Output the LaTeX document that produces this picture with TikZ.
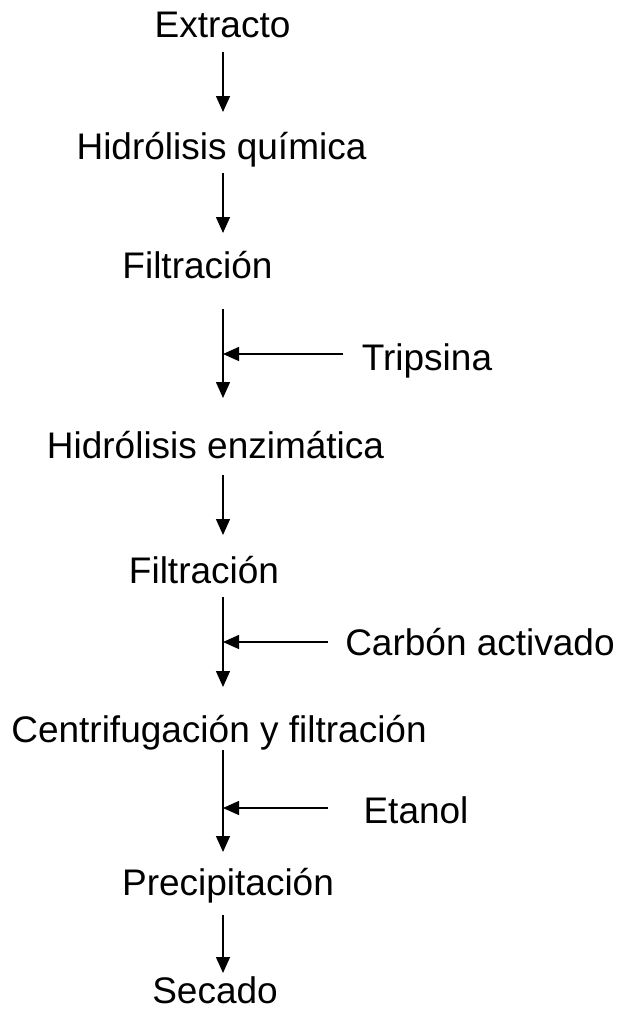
\documentclass[tikz,border=0pt]{standalone}
\usepackage{fontspec}
\setmainfont{Liberation Sans}
\usetikzlibrary{arrows.meta}
\begin{document}
\begin{tikzpicture}[x=1pt,y=1pt,
  lbl/.style={anchor=base,inner sep=0pt,font=\fontsize{37}{44}\selectfont},
  arr/.style={line width=1.4pt,-{Triangle[length=16pt,width=14pt]}}]
\useasboundingbox (0,0) rectangle (625,-1010);
\node[lbl] (n1) at (222.5,-37) {Extracto};
\node[lbl] (n2) at (221.5,-159) {Hidrólisis química};
\node[lbl] (n3) at (197.5,-278) {Filtración};
\node[lbl] (t1) at (427,-370) {Tripsina};
\node[lbl] (n4) at (215.5,-458) {Hidrólisis enzimática};
\node[lbl] (n5) at (204,-583) {Filtración};
\node[lbl] (t2) at (480,-655) {Carbón activado};
\node[lbl] (n6) at (219,-742) {Centrifugación y filtración};
\node[lbl] (t3) at (416,-823) {Etanol};
\node[lbl] (n7) at (228,-895) {Precipitación};
\node[lbl] (n8) at (215,-1003) {Secado};
% arrow coordinates
\coordinate (a1s) at (223,-52);  \coordinate (a1e) at (223,-112);
\coordinate (a2s) at (223,-173); \coordinate (a2e) at (223,-233);
\coordinate (a3s) at (223,-309); \coordinate (a3e) at (223,-398);
\coordinate (s1s) at (343,-354); \coordinate (s1e) at (223,-354);
\coordinate (a4s) at (223,-475); \coordinate (a4e) at (223,-535);
\coordinate (a5s) at (223,-597); \coordinate (a5e) at (223,-687);
\coordinate (s2s) at (328,-642); \coordinate (s2e) at (223,-642);
\coordinate (a6s) at (223,-750); \coordinate (a6e) at (223,-852);
\coordinate (s3s) at (328,-808); \coordinate (s3e) at (223,-808);
\coordinate (a7s) at (223,-915); \coordinate (a7e) at (223,-973);
\draw[arr] (a1s) -- (a1e);
\draw[arr] (a2s) -- (a2e);
\draw[arr] (a3s) -- (a3e);
\draw[arr] (s1s) -- (s1e);
\draw[arr] (a4s) -- (a4e);
\draw[arr] (a5s) -- (a5e);
\draw[arr] (s2s) -- (s2e);
\draw[arr] (a6s) -- (a6e);
\draw[arr] (s3s) -- (s3e);
\draw[arr] (a7s) -- (a7e);
\end{tikzpicture}
\end{document}
